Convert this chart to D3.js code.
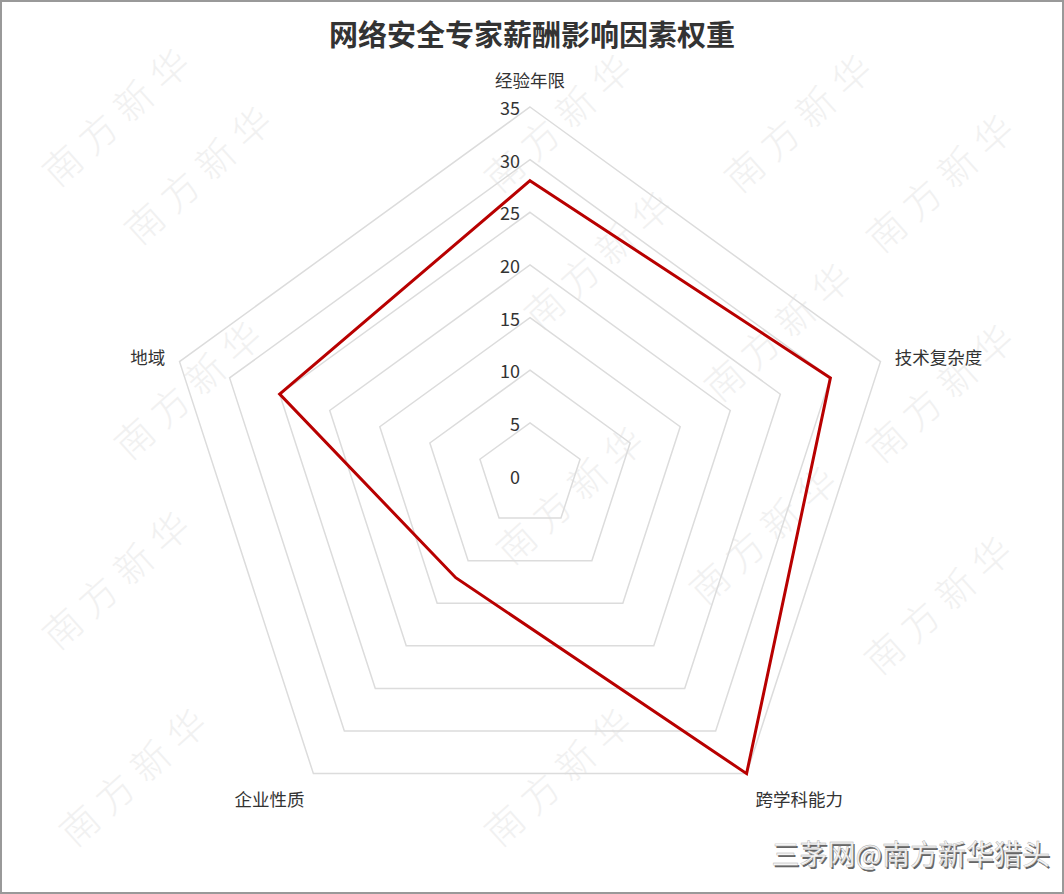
<!DOCTYPE html>
<html><head><meta charset="utf-8">
<script src="https://cdn.jsdelivr.net/npm/d3@7"></script>
<style>
html,body{margin:0;padding:0;background:#fff;}
svg{display:block;font-family:"Noto Sans CJK SC","Noto Sans",sans-serif;}
</style></head>
<body>
<svg id="chart" width="1064" height="894"></svg>
<script>
const title = "网络安全专家薪酬影响因素权重";
const indicators = ["经验年限", "技术复杂度", "跨学科能力", "企业性质", "地域"];
const values = [28, 30, 35, 12, 25];
const ringTicks = [0, 5, 10, 15, 20, 25, 30, 35];
const maxValue = 35;
const watermarkText = "南方新华";
const watermarkCenters = [[118,112],[200,170],[190,385],[118,575],[135,772],[560,118],[600,255],[572,490],[765,530],[800,118],[942,178],[780,327],[942,388],[560,772],[940,600]];
const signature = "三茅网@南方新华猎头";

const W = 1064, H = 894;
const cx = 530, cy = 475.5, R = 368.5;
const svg = d3.select("#chart");

svg.append("rect").attr("x",0).attr("y",0).attr("width",W).attr("height",H).attr("fill","#fff");

// watermarks
const wm = svg.append("g");
watermarkCenters.forEach(([x,y]) => {
  wm.append("text")
    .attr("transform", `translate(${x},${y}) rotate(-42)`)
    .attr("text-anchor","middle").attr("dominant-baseline","central")
    .attr("font-size",38).attr("letter-spacing",10).attr("font-weight",300)
    .attr("fill","#f1f1f1").text(watermarkText);
});

const r = d3.scaleLinear().domain([0, maxValue]).range([0, R]);
const n = indicators.length;
const angle = i => -Math.PI/2 + i * 2*Math.PI/n;
const pt = (i, v) => [cx + r(v)*Math.cos(angle(i)), cy + r(v)*Math.sin(angle(i))];

// rings
const ringLine = d3.line().curve(d3.curveLinearClosed);
svg.append("g").selectAll("path").data(ringTicks.filter(t => t > 0)).join("path")
  .attr("d", t => ringLine(indicators.map((_, i) => pt(i, t))))
  .attr("fill","none").attr("stroke","#dcdcdc").attr("stroke-width",1.5);

// tick labels
svg.append("g").selectAll("text").data(ringTicks).join("text")
  .attr("x", cx - 10).attr("y", t => cy - r(t))
  .attr("text-anchor","end").attr("dominant-baseline","central")
  .attr("font-size",18).attr("fill","#333").text(t => t);

// indicator names
const nameGap = 15;
svg.append("g").selectAll("text").data(indicators).join("text")
  .each(function(d, i) {
    const a = angle(i);
    const x = cx + (R + nameGap)*Math.cos(a), y = cy + (R + nameGap)*Math.sin(a);
    const c = Math.cos(a), s = Math.sin(a);
    const anchor = Math.abs(c) < 0.01 ? "middle" : (c > 0 ? "start" : "end");
    let base = "central";
    if (s < -0.9) base = "text-after-edge";
    else if (s > 0.5) base = "text-before-edge";
    d3.select(this).attr("x", x).attr("y", y)
      .attr("text-anchor", anchor).attr("dominant-baseline", base);
  })
  .attr("font-size",17.5).attr("fill","#333").text(d => d);

// data polygon
svg.append("path")
  .attr("d", ringLine(values.map((v, i) => pt(i, v))))
  .attr("fill","none").attr("stroke","#b80000").attr("stroke-width",3).attr("stroke-linejoin","miter");

// title
svg.append("text").attr("x", 532).attr("y", 33)
  .attr("text-anchor","middle").attr("dominant-baseline","central")
  .attr("font-size",29).attr("font-weight","bold").attr("fill","#333").text(title);

// signature
svg.append("text").attr("x", 1051.5).attr("y", 866.5)
  .attr("text-anchor","end").attr("font-size",28).attr("fill","#666").text(signature);
svg.append("text").attr("x", 1050).attr("y", 865)
  .attr("text-anchor","end").attr("font-size",28).attr("fill","#f6f6f6")
  .attr("stroke","#aaa").attr("stroke-width",0.4).text(signature);

// border
svg.append("rect").attr("x",1).attr("y",1).attr("width",W-2).attr("height",H-2)
  .attr("fill","none").attr("stroke","#999").attr("stroke-width",2);
</script>
</body></html>
